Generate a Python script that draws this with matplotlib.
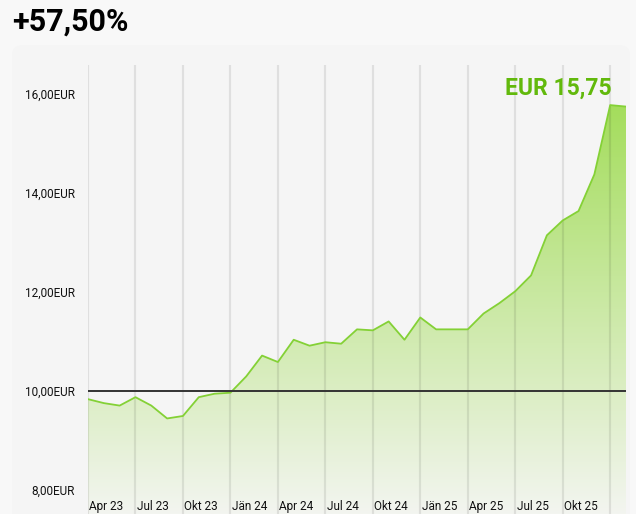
import numpy as np
import matplotlib
matplotlib.use('Agg')
import matplotlib.pyplot as plt
from matplotlib.patches import FancyBboxPatch
from matplotlib.transforms import blended_transform_factory

plt.rcParams['font.family'] = ['Roboto', 'DejaVu Sans']

# monthly values, Apr 23 .. Feb 26
months = ['Apr 23', 'Mai 23', 'Jun 23', 'Jul 23', 'Aug 23', 'Sep 23', 'Okt 23', 'Nov 23', 'Dez 23',
          'Jän 24', 'Feb 24', 'Mär 24', 'Apr 24', 'Mai 24', 'Jun 24', 'Jul 24', 'Aug 24', 'Sep 24',
          'Okt 24', 'Nov 24', 'Dez 24', 'Jän 25', 'Feb 25', 'Mär 25', 'Apr 25', 'Mai 25', 'Jun 25',
          'Jul 25', 'Aug 25', 'Sep 25', 'Okt 25', 'Nov 25', 'Dez 25', 'Jän 26', 'Feb 26']
prices = [9.84, 9.76, 9.71, 9.88, 9.71, 9.45, 9.50, 9.88, 9.95,
          9.97, 10.30, 10.72, 10.59, 11.04, 10.92, 10.99, 10.96, 11.25,
          11.23, 11.41, 11.04, 11.49, 11.25, 11.25, 11.25, 11.57, 11.78,
          12.02, 12.34, 13.15, 13.45, 13.64, 14.38, 15.78, 15.75]
tick_labels = ['Apr 23', 'Jul 23', 'Okt 23', 'Jän 24', 'Apr 24', 'Jul 24', 'Okt 24',
               'Jän 25', 'Apr 25', 'Jul 25', 'Okt 25', 'Jän 26']
y_ticks = [8, 10, 12, 14, 16]
start_price = 10.0
change_text = '+57,50%'
last_text = 'EUR 15,75'

W, H = 636, 514
fig = plt.figure(figsize=(W / 100, H / 100), dpi=100)
fig.patch.set_facecolor('#f8f8f8')

# rounded panel behind the chart
panel = FancyBboxPatch((12 / W, -0.1), 618 / W, 1 - 45 / H + 0.1,
                       boxstyle='round,pad=0,rounding_size=0.018',
                       transform=fig.transFigure, facecolor='#f5f5f5',
                       edgecolor='none', zorder=-1)
fig.patches.append(panel)

ax = fig.add_axes([88 / W, 0, (626 - 88) / W, (H - 65) / H])
ax.set_facecolor('none')
ax.set_zorder(1)

x = np.arange(len(prices))
y = np.array(prices)
ylo, yhi = 7.52, 16.59
ax.set_xlim(0, len(prices) - 1)
ax.set_ylim(ylo, yhi)

# gradient fill under the line
poly = ax.fill_between(x, y, ylo, facecolor='none', edgecolor='none')
top_c = np.array([164, 221, 92]) / 255
bot_c = np.array([243, 245, 240]) / 255
t = np.linspace(0, 1, 256)[:, None]
grad = (top_c[None, :] * (1 - t) + bot_c[None, :] * t)[:, None, :]
img = ax.imshow(grad, aspect='auto', extent=[0, len(prices) - 1, ylo, y.max()],
                origin='upper', zorder=1)
img.set_clip_path(poly.get_paths()[0], transform=ax.transData)

ax.plot(x, y, color='#84d136', lw=1.3, zorder=3)

# quarter gridlines
for i, lab in enumerate(tick_labels):
    xi = months.index(lab)
    ax.axvline(xi, color='black', alpha=0.085, lw=1.6, zorder=2)

trans = blended_transform_factory(ax.transData, ax.transAxes)
for lab in tick_labels[:-1]:
    xi = months.index(lab)
    ax.text(xi + 0.08, 0.009, lab, transform=trans, ha='left', va='baseline',
            fontsize=8.5, color='#111111', zorder=4)

ax.axhline(start_price, color='#333333', lw=1.4, zorder=4)

ax.set_xticks([])
ax.set_yticks(y_ticks)
ax.set_yticklabels(['{:.2f}EUR'.format(v).replace('.', ',') for v in y_ticks],
                   fontsize=8.5, color='#111111')
ax.tick_params(axis='y', length=0, pad=9.5)
for s in ax.spines.values():
    s.set_visible(False)

fig.text(12 / W, 1 - 22 / H, change_text, fontsize=22, fontweight='bold',
         ha='left', va='center', color='black')
fig.text(612 / W, 1 - 95 / H, last_text, fontsize=16.5, fontweight='bold',
         ha='right', va='baseline', color='#62b90c')

fig.savefig('out.png', dpi=100, facecolor=fig.get_facecolor())
